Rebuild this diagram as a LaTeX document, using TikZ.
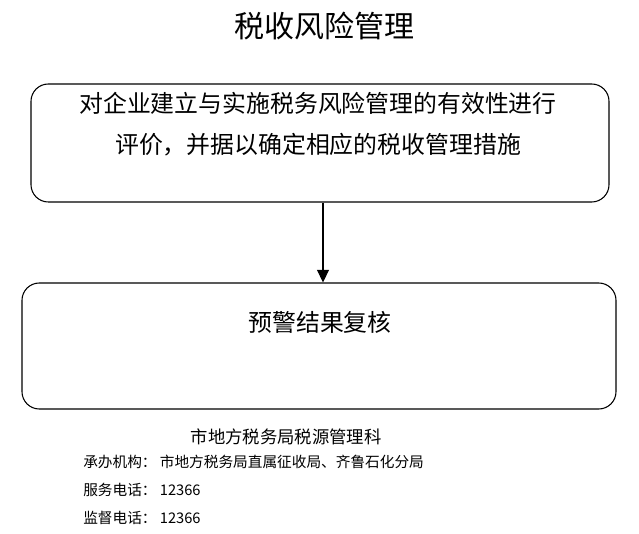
\documentclass[tikz,border=0pt]{standalone}
\usepackage{fontspec}
\usepackage{tikz}
\usetikzlibrary{arrows.meta,positioning}
\newfontfamily\cjk{Noto Sans CJK SC}

\begin{document}
\begin{tikzpicture}[x=0.75pt,y=-0.75pt,font=\cjk,
  flowbox/.style={draw,line width=0.8pt,rounded corners=13pt,inner sep=0pt},
  boxtext/.style={font=\cjk\fontsize{17.9pt}{23pt}\selectfont,align=center,inner sep=0pt},
  footsmall/.style={font=\cjk\fontsize{11pt}{12pt}\selectfont,anchor=west,inner sep=0pt}]
\useasboundingbox (0,0) rectangle (639,534);
\node[font=\cjk\fontsize{22.5pt}{26pt}\selectfont] (title) at (324,26) {税收风险管理};
\node[flowbox,minimum width=433.5pt,minimum height=88.5pt] (eval) at (320,143) {};
\node[boxtext] (evaltext) at (318,124) {对企业建立与实施税务风险管理的有效性进行\\[8pt]评价，并据以确定相应的税收管理措施};
\node[flowbox,minimum width=445.5pt,minimum height=94.5pt] (review) at (319,346) {};
\node[boxtext] (reviewtext) at (320,322) {预警结果复核};
\draw[line width=0.8pt,-{Triangle[length=9.5pt,width=9pt]}] ([xshift=2.25pt]eval.south) -- ([xshift=3pt]review.north);
% footer
\node[font=\cjk\fontsize{13pt}{15pt}\selectfont] (office) at (286,437) {市地方税务局税源管理科};
\node[footsmall] (org) at (83,462) {承办机构：\ 市地方税务局直属征收局、齐鲁石化分局};
\node[footsmall] (service) at (83,490) {服务电话：\ 12366};
\node[footsmall] (monitor) at (83,518) {监督电话：\ 12366};
\end{tikzpicture}
\end{document}
